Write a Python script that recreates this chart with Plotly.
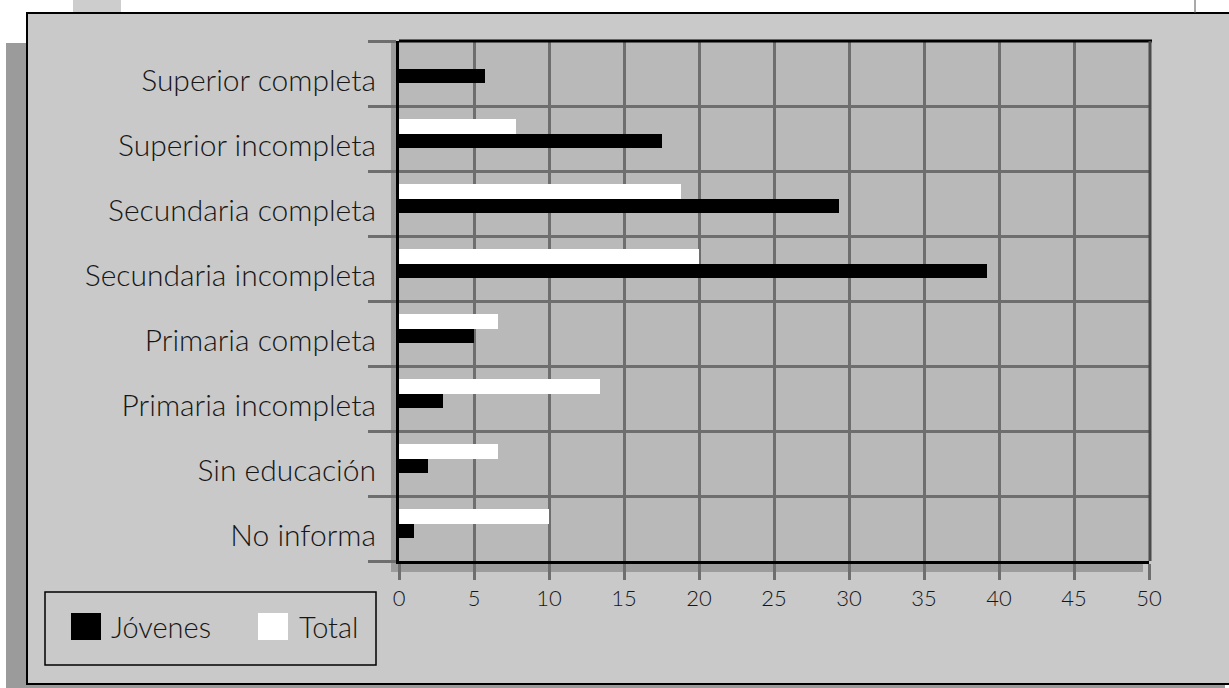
import plotly.graph_objects as go

# Education level categories, listed bottom-to-top as they appear on the axis
categorias = [
    "No informa",
    "Sin educación",
    "Primaria incompleta",
    "Primaria completa",
    "Secundaria incompleta",
    "Secundaria completa",
    "Superior incompleta",
    "Superior completa",
]
jovenes = [1.0, 1.9, 2.9, 5.0, 39.2, 29.3, 17.5, 5.7]
total = [10.0, 6.6, 13.4, 6.6, 20.0, 18.8, 7.8, 0.0]
ticks_x = [0, 5, 10, 15, 20, 25, 30, 35, 40, 45, 50]

W, H = 1229, 688
ML, MR, MT, MB = 399, 80, 41, 127
PW, PH = W - ML - MR, H - MT - MB

FONT = "Lato"
TXT = "#161616"
GRID = "#6e6e6e"


def px(x):
    return (x - ML) / PW


def py(y):
    return (H - MB - y) / PH


def rect(x0, y0, x1, y1, fill, line=None, lw=0, layer="below"):
    return dict(
        type="rect", xref="paper", yref="paper",
        x0=px(x0), x1=px(x1), y0=py(y1), y1=py(y0),
        fillcolor=fill, layer=layer,
        line=dict(color=line or "rgba(0,0,0,0)", width=lw),
    )


def seg(x0, y0, x1, y1, color, lw, layer="above"):
    return dict(
        type="line", xref="paper", yref="paper",
        x0=px(x0), x1=px(x1), y0=py(y0), y1=py(y1),
        layer=layer, line=dict(color=color, width=lw),
    )


pos = list(range(len(categorias)))
# category labels sit slightly below the row centre
label_pos = [p - 0.1 for p in pos]

fig = go.Figure()
fig.add_trace(go.Bar(
    y=pos, x=total, orientation="h", name="Total",
    marker=dict(color="#ffffff", line=dict(width=0)),
    width=0.225, offset=0.075, showlegend=False,
))
fig.add_trace(go.Bar(
    y=pos, x=jovenes, orientation="h", name="Jóvenes",
    marker=dict(color="#000000", line=dict(width=0)),
    width=0.225, offset=-0.15, showlegend=False,
))

shapes = [
    # page frame
    rect(6, 43, 27, 688, "#9b9b9b"),
    rect(6, 684, 1225, 688, "#9b9b9b"),
    rect(73, 0, 121, 13, "#cdcdcd"),
    rect(27, 13, 1240, 684, "#c9c9c9", "#000000", 2),
    seg(1195, 0, 1195, 13, "#555555", 1, layer="below"),
    # plot area with drop shadow
    rect(391, 43, 1143, 572, "#9c9c9c"),
    rect(ML, MT, ML + PW, MT + PH, "#b9b9b9"),
    # plot borders
    seg(ML, MT, ML + PW + 3, MT, "#000000", 3),
    seg(ML + PW + 1, MT, ML + PW + 1, MT + PH, "#4a4a4a", 3),
    # legend
    rect(45, 592, 376, 665, "rgba(0,0,0,0)", "#000000", 1.5, layer="above"),
    rect(71, 613, 101, 640, "#000000", layer="above"),
    rect(258, 613, 288, 640, "#ffffff", layer="above"),
]

annotations = [
    dict(text="Jóvenes", x=px(109), y=py(626), xref="paper", yref="paper",
         xanchor="left", yanchor="middle", showarrow=False,
         font=dict(family=FONT, size=29, color=TXT, weight=300)),
    dict(text="Total", x=px(297), y=py(626), xref="paper", yref="paper",
         xanchor="left", yanchor="middle", showarrow=False,
         font=dict(family=FONT, size=29, color=TXT, weight=300)),
]

fig.update_layout(
    width=W, height=H, autosize=False,
    margin=dict(l=ML, r=MR, t=MT, b=MB, pad=0),
    paper_bgcolor="#ffffff", plot_bgcolor="rgba(0,0,0,0)",
    barmode="overlay", bargap=0,
    font=dict(family=FONT, color=TXT, weight=300),
    shapes=shapes, annotations=annotations,
    showlegend=False,
)
fig.update_xaxes(
    range=[0, 50], tickvals=ticks_x, ticktext=[str(t) for t in ticks_x],
    showgrid=True, gridcolor=GRID, gridwidth=2.5, zeroline=False,
    showline=True, linecolor="#000000", linewidth=3,
    ticks="outside", ticklen=16, tickwidth=2.5, tickcolor=GRID,
    tickfont=dict(family=FONT, size=22, color=TXT, weight=300),
    fixedrange=True,
)
fig.update_yaxes(
    range=[-0.5, 7.5], tickvals=label_pos, ticktext=categorias,
    showgrid=False, zeroline=False,
    showline=True, linecolor="#000000", linewidth=3,
    ticks="outside", ticklen=14, tickcolor="rgba(0,0,0,0)",
    tickfont=dict(family=FONT, size=30, color=TXT, weight=300),
    minor=dict(
        ticks="outside", tick0=-0.5, dtick=1, ticklen=28,
        tickwidth=2.5, tickcolor=GRID,
        showgrid=True, gridcolor=GRID, gridwidth=2.5,
    ),
    fixedrange=True,
)

fig.write_html("out.html", config={"displayModeBar": False})
